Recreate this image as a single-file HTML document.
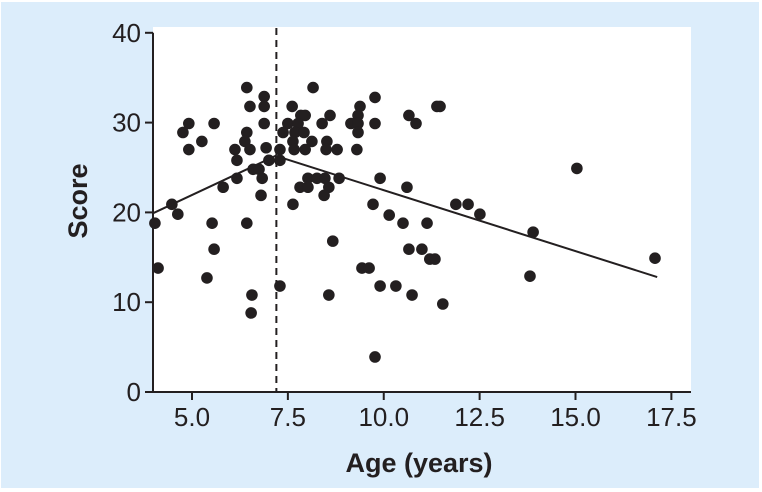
<!DOCTYPE html>
<html><head><meta charset="utf-8"><style>
body{margin:0;background:#fff}
svg{display:block;font-family:"Liberation Sans",sans-serif}
</style></head><body>
<svg id="c" width="762" height="492" viewBox="0 0 762 492">
<rect x="0" y="0" width="762" height="492" fill="#fff"/>
<rect x="1" y="2" width="758" height="486" fill="#dcedfb"/>
<rect x="153" y="27" width="538" height="365" fill="#fff"/>
<g id="axes"></g><g id="marks"></g>
<text x="419" y="472" text-anchor="middle" font-size="27" font-weight="bold" fill="#231f20">Age (years)</text>
<text transform="translate(87,201) rotate(-90)" text-anchor="middle" font-size="27" font-weight="bold" fill="#231f20">Score</text>
</svg>
<script>
const ageX=[8.157,9.772,7.612,9.381,11.386,11.468,7.838,7.951,8.599,9.329,10.656,7.499,7.766,8.393,9.144,9.329,9.772,10.841,7.375,7.684,7.92,9.329,7.632,8.126,8.517,7.293,7.663,7.951,8.496,8.784,9.299,7.293,8.023,8.26,8.465,8.836,9.905,7.817,8.023,8.568,10.605,8.445,7.632,9.72,11.88,12.199,12.507,10.142,10.502,11.129,8.671,10.656,10.995,11.201,11.335,9.432,9.618,7.293,9.905,10.316,8.568,10.738,11.54,9.772,
6.429,6.511,6.882,6.882,4.917,5.576,6.882,4.763,6.429,5.257,4.917,6.378,6.12,6.511,6.933,6.172,7.005,6.594,6.748,6.172,6.83,5.812,6.8,4.475,4.63,4.033,5.524,6.429,5.576,4.115,5.39,6.563,6.542,13.895,13.813,15.036,17.073];
const scoreY=[33.9,32.8,31.8,31.8,31.8,31.8,30.8,30.8,30.8,30.8,30.8,29.9,29.9,29.9,29.9,29.9,29.9,29.9,28.9,28.9,28.9,28.9,27.9,27.9,27.9,27.0,27.0,27.0,27.0,27.0,27.0,25.8,23.8,23.8,23.8,23.8,23.8,22.8,22.8,22.8,22.8,21.9,20.9,20.9,20.9,20.9,19.8,19.7,18.8,18.8,16.8,15.9,15.9,14.8,14.8,13.8,13.8,11.8,11.8,11.8,10.8,10.8,9.8,3.9,
33.9,31.8,32.9,31.8,29.9,29.9,29.9,28.9,28.9,27.9,27.0,27.9,27.0,27.0,27.2,25.8,25.8,24.8,24.8,23.8,23.8,22.8,21.9,20.9,19.8,18.8,18.8,18.8,15.9,13.8,12.7,10.8,8.8,17.8,12.9,24.9,14.9];
const fitX=[3.98,7.18,17.13];
const fitY=[19.9,26.3,12.8];
const breakAge=[7.2];
const xTicks=[5.0,7.5,10.0,12.5,15.0,17.5];
const xTickLabels=["5.0","7.5","10.0","12.5","15.0","17.5"];
const yTicks=[0,10,20,30,40];
const yTickLabels=["0","10","20","30","40"];
const sx=v=>192+(v-5)*38.35;
const sy=v=>392-v*8.98;
const NS="http://www.w3.org/2000/svg";
const ax=document.getElementById('axes'),mk=document.getElementById('marks');
function mkEl(t,a,p){const e=document.createElementNS(NS,t);for(const k in a)e.setAttribute(k,a[k]);p.appendChild(e);return e;}
let e=mkEl('line',{x1:153,y1:sy(40),x2:153,y2:393,stroke:'#231f20','stroke-width':2},ax);


e=mkEl('line',{x1:145,y1:392,x2:691,y2:392,stroke:'#231f20','stroke-width':2},ax);


yTicks.forEach((v,i)=>{
 const t=mkEl('line',{x1:145,x2:153,y1:sy(v),y2:sy(v),stroke:'#231f20','stroke-width':2},ax);
 
 
 const l=mkEl('text',{x:141,y:sy(v)+9,'text-anchor':'end','font-size':26,fill:'#231f20'},ax);
 l.textContent=yTickLabels[i];
 
 
});
xTicks.forEach((v,i)=>{
 const t=mkEl('line',{x1:sx(v),x2:sx(v),y1:392,y2:400,stroke:'#231f20','stroke-width':2},ax);
 
 
 const l=mkEl('text',{x:sx(v),y:426,'text-anchor':'middle','font-size':26,fill:'#231f20'},ax);
 l.textContent=xTickLabels[i];
 
 
});
e=mkEl('line',{x1:sx(breakAge[0]),x2:sx(breakAge[0]),y1:28,y2:392,stroke:'#231f20','stroke-width':2,'stroke-dasharray':'7,5'},mk);


ageX.forEach((v,i)=>{
 const c=mkEl('circle',{cx:sx(v),cy:sy(scoreY[i]),r:5.8,fill:'#231f20'},mk);
 
 
});
e=mkEl('polyline',{points:fitX.map((v,i)=>sx(v)+','+sy(fitY[i])).join(' '),fill:'none',stroke:'#231f20','stroke-width':2},mk);


</script>
</body></html>
